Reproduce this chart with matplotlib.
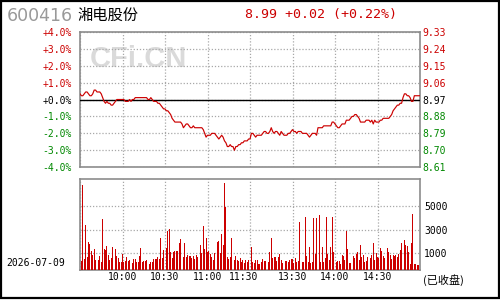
import matplotlib
matplotlib.use("Agg")
import matplotlib.pyplot as plt
from matplotlib.patches import Rectangle
import matplotlib.transforms as mtransforms
import numpy as np

# ---------------- data ----------------
code = "600416"
name = "湘电股份"
date_label = "2026-07-09"
status_label = "(已收盘)"
prev_close = 8.97
last_price = 8.99
change = 0.02
change_pct = 0.22

prices = [
    9.00, 8.99, 8.99, 9.00, 9.01, 9.01, 9.00, 8.99, 8.99, 9.00,
    9.02, 9.02, 9.01, 9.01, 9.01, 9.00, 8.98, 8.96, 8.95, 8.96,
    8.95, 8.95, 8.94, 8.94, 8.95, 8.96, 8.97, 8.97, 8.97, 8.97,
    8.97, 8.97, 8.96, 8.96, 8.96, 8.97, 8.96, 8.97, 8.97, 8.98,
    8.98, 8.98, 8.98, 8.98, 8.98, 8.98, 8.98, 8.98, 8.97, 8.97,
    8.98, 8.97, 8.96, 8.96, 8.96, 8.95, 8.95, 8.94, 8.93, 8.92,
    8.92, 8.91, 8.91, 8.90, 8.89, 8.87, 8.86, 8.85, 8.85, 8.85,
    8.85, 8.85, 8.84, 8.82, 8.83, 8.84, 8.84, 8.83, 8.82, 8.82,
    8.83, 8.82, 8.82, 8.82, 8.82, 8.82, 8.82, 8.81, 8.79, 8.77,
    8.78, 8.78, 8.78, 8.79, 8.79, 8.79, 8.78, 8.77, 8.76, 8.77,
    8.78, 8.77, 8.75, 8.74, 8.72, 8.72, 8.73, 8.72, 8.72, 8.70,
    8.72, 8.72, 8.73, 8.73, 8.74, 8.74, 8.75, 8.75, 8.75, 8.76,
    8.76, 8.79, 8.79, 8.78, 8.77, 8.78, 8.78, 8.78, 8.78, 8.79,
    8.80, 8.80, 8.79, 8.79, 8.80, 8.82, 8.80, 8.79, 8.80, 8.80,
    8.79, 8.78, 8.80, 8.79, 8.78, 8.78, 8.78, 8.79, 8.79, 8.80,
    8.81, 8.80, 8.80, 8.79, 8.80, 8.80, 8.80, 8.79, 8.79, 8.79,
    8.79, 8.78, 8.77, 8.78, 8.79, 8.79, 8.79, 8.78, 8.82, 8.82,
    8.82, 8.82, 8.83, 8.83, 8.83, 8.83, 8.83, 8.83, 8.85, 8.85,
    8.84, 8.83, 8.82, 8.82, 8.83, 8.84, 8.84, 8.84, 8.86, 8.86,
    8.86, 8.87, 8.88, 8.88, 8.89, 8.89, 8.88, 8.87, 8.85, 8.85,
    8.85, 8.85, 8.86, 8.86, 8.86, 8.85, 8.86, 8.84, 8.86, 8.85,
    8.85, 8.85, 8.86, 8.86, 8.87, 8.87, 8.87, 8.87, 8.87, 8.88,
    8.89, 8.91, 8.92, 8.93, 8.94, 8.94, 8.95, 8.95, 8.98, 9.00,
    9.00, 8.99, 8.99, 8.98, 8.96, 8.96, 8.99, 8.99, 8.99, 8.99,
    8.99,
]

volumes = [
    860, 400, 6740, 500, 3380, 700, 1980, 1780, 1200, 860,
    1360, 440, 640, 440, 780, 300, 3880, 1360, 1280, 1620,
    860, 440, 640, 1530, 780, 1360, 780, 640, 300, 300,
    950, 300, 360, 700, 360, 440, 1420, 200, 530, 530,
    250, 300, 780, 1480, 250, 360, 360, 420, 360, 130,
    250, 250, 530, 530, 560, 700, 530, 2320, 640, 1280,
    860, 1480, 2880, 3050, 1080, 640, 1140, 1200, 1200, 1200,
    1870, 2200, 1840, 700, 1840, 700, 860, 780, 780, 640,
    780, 500, 860, 700, 200, 1700, 1000, 3300, 1360, 2260,
    1080, 1200, 950, 700, 440, 1000, 1780, 1980, 2060, 1000,
    2600, 1700, 6960, 4890, 700, 530, 700, 2320, 1420, 440,
    780, 440, 360, 580, 250, 420, 170, 440, 300, 440,
    300, 1560, 250, 160, 440, 440, 100, 100, 250, 530,
    400, 360, 440, 300, 1080, 2320, 640, 720, 700, 360,
    720, 920, 440, 160, 160, 360, 360, 300, 470, 530,
    530, 160, 580, 250, 360, 3660, 250, 250, 300, 4030,
    780, 300, 1560, 200, 250, 3950, 970, 4000, 250, 4220,
    250, 1530, 300, 580, 4080, 950, 420, 1530, 4080, 1080,
    780, 300, 360, 360, 100, 850, 780, 440, 2880, 1360,
    160, 160, 580, 780, 640, 970, 1080, 440, 1700, 700,
    850, 250, 360, 700, 850, 580, 850, 1840, 440, 1000,
    720, 580, 1420, 1200, 750, 580, 1420, 1480, 1140, 860,
    530, 860, 780, 860, 700, 920, 1280, 1840, 2600, 2120,
    1700, 1650, 1140, 100, 1900, 4280, 130, 80, 0, 0,
    2400,
]

pct_ticks = [4, 3, 2, 1, 0, -1, -2, -3, -4]
vol_ticks = [1000, 3000, 5000]
time_tick_pos = [30, 60, 90, 120, 150, 180, 210]
time_tick_labels = ["10:00", "10:30", "11:00", "11:30", "13:30", "14:00", "14:30"]

# ---------------- style ----------------
RED = "#cc0000"
GREEN = "#008800"
GRID = "#a8a8a8"
SPINE = "#8c8c8c"
MONO = "DejaVu Sans Mono"
W, H = 500, 300

fig = plt.figure(figsize=(5, 3), dpi=100)
fig.patch.set_facecolor("white")

def fx(px):
    return px / W

def fy(py):
    return 1 - py / H

# frame around whole image
fig.patches.append(Rectangle((0.001, 0.006), 0.997, 0.992, transform=fig.transFigure,
                             fill=False, edgecolor="black", linewidth=1.6))

# ---------------- price panel ----------------
L, R = 80, 420
ax = fig.add_axes([fx(L), fy(167), fx(R) - fx(L), fy(32) - fy(167)])
n = len(prices)
x = np.arange(n)
ax.set_xlim(0, n - 1)
lo = prev_close * (1 + min(pct_ticks) / 100)
hi = prev_close * (1 + max(pct_ticks) / 100)
ax.set_ylim(lo, hi)

ax.set_xticks(range(0, n, 30))
ax.set_xticklabels([])
ytick_vals = [prev_close * (1 + p / 100) for p in pct_ticks]
ax.set_yticks(ytick_vals)
ax.set_yticklabels([f"{p:+.1f}%" for p in pct_ticks], fontfamily=MONO, fontsize=7)
for lab, p in zip(ax.get_yticklabels(), pct_ticks):
    lab.set_color(RED if p > 0 else (GREEN if p < 0 else "black"))
ax.tick_params(axis="both", length=0)
ax.tick_params(axis="y", pad=6)
ax.grid(True, color=GRID, linestyle=(0, (1, 1.5)), linewidth=0.9)
for s in ax.spines.values():
    s.set_color(SPINE)
    s.set_linewidth(1.2)

ax.axhline(prev_close, color="black", linewidth=1.0, zorder=3)
ax.plot(x, prices, color=RED, linewidth=0.85, zorder=4)

ax2 = ax.twinx()
ax2.set_ylim(lo, hi)
ax2.set_yticks(ytick_vals)
ax2.set_yticklabels([f"{v:.2f}" for v in ytick_vals], fontfamily=MONO, fontsize=7)
for lab, p in zip(ax2.get_yticklabels(), pct_ticks):
    lab.set_color(RED if p > 0 else (GREEN if p < 0 else "black"))
ax2.tick_params(axis="y", length=0, pad=1.5)
for s in ax2.spines.values():
    s.set_visible(False)

# watermark
ax.text(0.03, 0.80, "CFi.CN", transform=ax.transAxes, fontsize=21,
        fontweight="bold", family="Liberation Sans", color="#dadada",
        ha="left", va="center", zorder=1)

# ---------------- volume panel ----------------
axv = fig.add_axes([fx(L), fy(269.7), fx(R) - fx(L), fy(178.5) - fy(269.7)])
vbase = -372
axv.set_xlim(0, n - 1)
axv.set_ylim(vbase, 7300)
axv.bar(x, np.array(volumes) - vbase, bottom=vbase, width=0.6, color=RED,
        linewidth=0, zorder=3)
axv.set_xticks(range(0, n, 30))
axv.set_xticklabels([""] * len(range(0, n, 30)))
axv.set_yticks(vol_ticks)
axv.set_yticklabels([])
axv.grid(True, color=GRID, linestyle=(0, (1, 1.5)), linewidth=0.9)
axv.tick_params(axis="both", length=0)
for s in axv.spines.values():
    s.set_color(SPINE)
    s.set_linewidth(1.2)

axv2 = axv.twinx()
axv2.set_ylim(vbase, 7300)
axv2.set_yticks(vol_ticks)
axv2.set_yticklabels([str(v) for v in vol_ticks], fontfamily=MONO, fontsize=7)
axv2.tick_params(axis="y", length=0, pad=3)
for s in axv2.spines.values():
    s.set_visible(False)

axt = axv.secondary_xaxis("bottom")
axt.set_xticks(time_tick_pos)
axt.set_xticklabels(time_tick_labels, fontfamily=MONO, fontsize=7)
axt.tick_params(length=0, pad=2)
for s in axt.spines.values():
    s.set_visible(False)
# shift the 11:30 label slightly left as in the reference
lab1130 = axt.get_xticklabels()[time_tick_labels.index("11:30")]
lab1130.set_transform(lab1130.get_transform() + mtransforms.ScaledTranslation(-6 / 100, 0, fig.dpi_scale_trans))

# ---------------- header & side texts ----------------
fig.text(fx(7), fy(16), code, fontsize=12.5, color="#999999", family="DejaVu Sans",
         ha="left", va="center")
fig.text(fx(77), fy(15.5), name, fontsize=11, color="black",
         family=["Noto Sans CJK SC", "DejaVu Sans"], ha="left", va="center")
fig.text(fx(245), fy(14.5), f"{last_price:.2f} {change:+.2f} ({change_pct:+.2f}%)",
         fontsize=9.5, color=RED, family=MONO, ha="left", va="center")
fig.text(fx(6), fy(263.5), date_label, fontsize=7, color="black", family=MONO,
         ha="left", va="center")
fig.text(fx(423), fy(280), status_label, fontsize=8, color="black",
         family=["Noto Sans CJK SC", "DejaVu Sans"], ha="left", va="center")

fig.savefig("out.png", dpi=100)
